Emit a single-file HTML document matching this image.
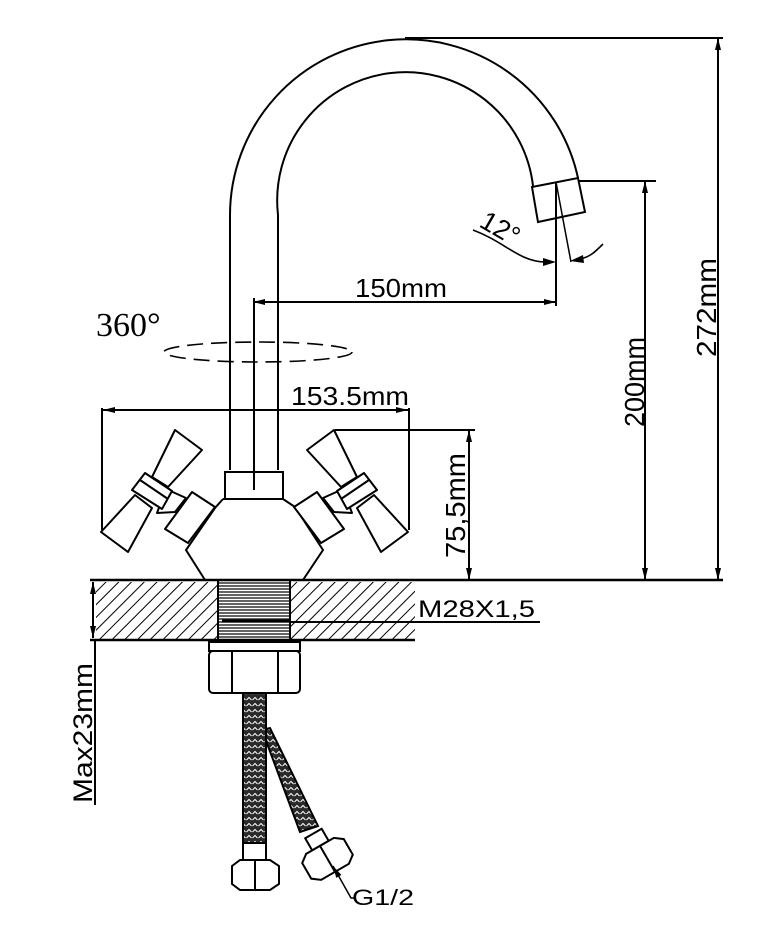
<!DOCTYPE html>
<html><head><meta charset="utf-8"><style>
html,body{margin:0;padding:0;background:#fff;width:761px;height:936px;overflow:hidden}
svg{display:block}
text{font-family:"Liberation Sans",sans-serif;fill:#000}
</style></head><body>
<svg width="761" height="936" viewBox="0 0 761 936" xmlns="http://www.w3.org/2000/svg">
<defs>
<marker id="a" viewBox="0 0 12 6" refX="12" refY="3" markerWidth="12" markerHeight="6" orient="auto" markerUnits="userSpaceOnUse"><path d="M0,0 L12,3 L0,6 z" fill="#000"/></marker>
<marker id="b" viewBox="0 0 12 6" refX="0" refY="3" markerWidth="12" markerHeight="6" orient="auto" markerUnits="userSpaceOnUse"><path d="M12,0 L0,3 L12,6 z" fill="#000"/></marker>
<pattern id="h" width="9" height="9" patternUnits="userSpaceOnUse" patternTransform="rotate(45)"><line x1="0" y1="0" x2="0" y2="9" stroke="#000" stroke-width="2"/></pattern>
<pattern id="th" width="4" height="3" patternUnits="userSpaceOnUse"><rect width="4" height="3" fill="#fff"/><line x1="0" y1="1" x2="4" y2="1" stroke="#222" stroke-width="1.4"/></pattern>
<pattern id="br" width="6" height="6" patternUnits="userSpaceOnUse"><rect width="6" height="6" fill="#2a2a2a"/><path d="M0.5,4 L3,1.5 L5.5,4" stroke="#fff" stroke-width="1" fill="none"/></pattern>
</defs>
<g fill="none" stroke="#000" stroke-width="2">
<path d="M230,470 L230,215 A176,176 0 0 1 578,178"/>
<path d="M278,470 L278,215 A128,128 0 0 1 533,186"/>
<path d="M532,187 L578,178 L585,212 L538,222 Z"/>
<line x1="556" y1="182" x2="571" y2="262" stroke-width="1.5"/>
<line x1="254" y1="298" x2="254" y2="490" stroke-width="2"/>
<ellipse cx="258" cy="352" rx="94" ry="10" stroke-width="1.6" stroke-dasharray="16,8"/>
<line x1="405" y1="38" x2="723" y2="38"/>
<line x1="718" y1="38" x2="718" y2="580" marker-start="url(#b)" marker-end="url(#a)"/>
<line x1="578" y1="181" x2="656" y2="181"/>
<line x1="645" y1="181" x2="645" y2="580" marker-start="url(#b)" marker-end="url(#a)"/>
<line x1="253" y1="302" x2="556" y2="302" marker-start="url(#b)" marker-end="url(#a)"/>
<line x1="556" y1="182" x2="556" y2="306"/>
<path d="M473,230 C505,242 520,262 545,262" stroke-width="1.6"/>
<path d="M543,258 L556,262 L543,266 Z" fill="#000" stroke="none"/>
<path d="M603,244 C595,252 590,257 580,259" stroke-width="1.6"/>
<path d="M583,255 L570,261 L584,263 Z" fill="#000" stroke="none"/>
<line x1="103" y1="410" x2="408" y2="410" marker-start="url(#b)" marker-end="url(#a)"/>
<line x1="102" y1="408" x2="102" y2="530"/>
<line x1="409" y1="408" x2="409" y2="530"/>
<line x1="335" y1="430" x2="475" y2="430"/>
<line x1="469" y1="430" x2="469" y2="580" marker-start="url(#b)" marker-end="url(#a)"/>
<rect x="225" y="472" width="58" height="27"/>
<path d="M223,499 L283,499 L295,507 L323,550 L303,580 M223,499 L215,508 L186,550 L205,580"/>
<g id="hl" fill="#fff" stroke-linejoin="round">
<path d="M165,529 L192,492 L215,507 L188,543 Z"/>
<path d="M166,489 L186,498 L175,512 L157,513 Z"/>
<path d="M175,430 L202,450 L168,487 L152,477 Z"/>
<path d="M135,495 L152,508 L128,552 L101,532 Z"/>
<path d="M145,473 L172,491 L162,509 L132,490 Z"/>
<line x1="140" y1="480" x2="168" y2="499"/>
</g>
<use href="#hl" transform="translate(509,0) scale(-1,1)"/>
<rect x="96" y="582" width="122" height="57" fill="url(#h)" stroke="none"/>
<rect x="290" y="582" width="125" height="57" fill="url(#h)" stroke="none"/>
<rect x="218" y="582" width="72" height="57" fill="url(#th)" stroke="none"/>
<line x1="218" y1="580" x2="218" y2="640"/>
<line x1="290" y1="580" x2="290" y2="640"/>
<line x1="90" y1="580" x2="723" y2="580" stroke-width="2.5"/>
<line x1="90" y1="640" x2="415" y2="640" stroke-width="2.5"/>
<line x1="290" y1="622" x2="540" y2="622"/>
<line x1="222" y1="621" x2="290" y2="621" stroke-width="3"/>
<line x1="93" y1="582" x2="93" y2="638" marker-start="url(#b)" marker-end="url(#a)"/>
<line x1="95" y1="640" x2="95" y2="805"/>
<rect x="209" y="642" width="91" height="9"/>
<rect x="209" y="651" width="91" height="42" rx="4"/>
<line x1="232" y1="651" x2="232" y2="693"/>
<line x1="278" y1="651" x2="278" y2="693"/>
<path d="M262,730 L300,832 L318,826 L270,728 Z" fill="url(#br)"/>
<rect x="243" y="693" width="23" height="150" fill="url(#br)"/>
<rect x="243" y="843" width="23" height="17" fill="#fff"/>
<path d="M232,866 L240,860 L270,860 L279,866 L279,884 L270,890 L240,890 L232,884 Z" fill="#fff"/>
<line x1="255" y1="860" x2="255" y2="890"/>
<g transform="rotate(-30 327 858)">
<rect x="318" y="830" width="19" height="14" fill="#fff"/>
<path d="M303,850 L311,844 L343,844 L351,850 L351,868 L343,874 L311,874 L303,868 Z" fill="#fff"/>
<line x1="327" y1="844" x2="327" y2="874"/>
</g>
<polyline points="333,866 351,898 356,898" stroke-width="1.5" marker-start="url(#b)"/>
</g>
<text x="96" y="336" font-size="34" style="font-family:'Liberation Serif',serif">360°</text>
<text x="355" y="297" font-size="26" textLength="92" lengthAdjust="spacingAndGlyphs">150mm</text>
<text x="291" y="405" font-size="26" textLength="118" lengthAdjust="spacingAndGlyphs">153.5mm</text>
<text transform="translate(478,226) rotate(30)" font-size="27">12°</text>
<text transform="translate(644,427) rotate(-90)" font-size="28" textLength="90" lengthAdjust="spacingAndGlyphs">200mm</text>
<text transform="translate(716,357) rotate(-90)" font-size="28" textLength="99" lengthAdjust="spacingAndGlyphs">272mm</text>
<text transform="translate(465,558) rotate(-90)" font-size="28" textLength="105" lengthAdjust="spacingAndGlyphs">75,5mm</text>
<text transform="translate(92,803) rotate(-90)" font-size="27" textLength="140" lengthAdjust="spacingAndGlyphs">Max23mm</text>
<text x="418" y="617" font-size="24" textLength="117" lengthAdjust="spacingAndGlyphs">M28X1,5</text>
<text x="352" y="905" font-size="22" textLength="62" lengthAdjust="spacingAndGlyphs">G1/2</text>
</svg>
</body></html>
